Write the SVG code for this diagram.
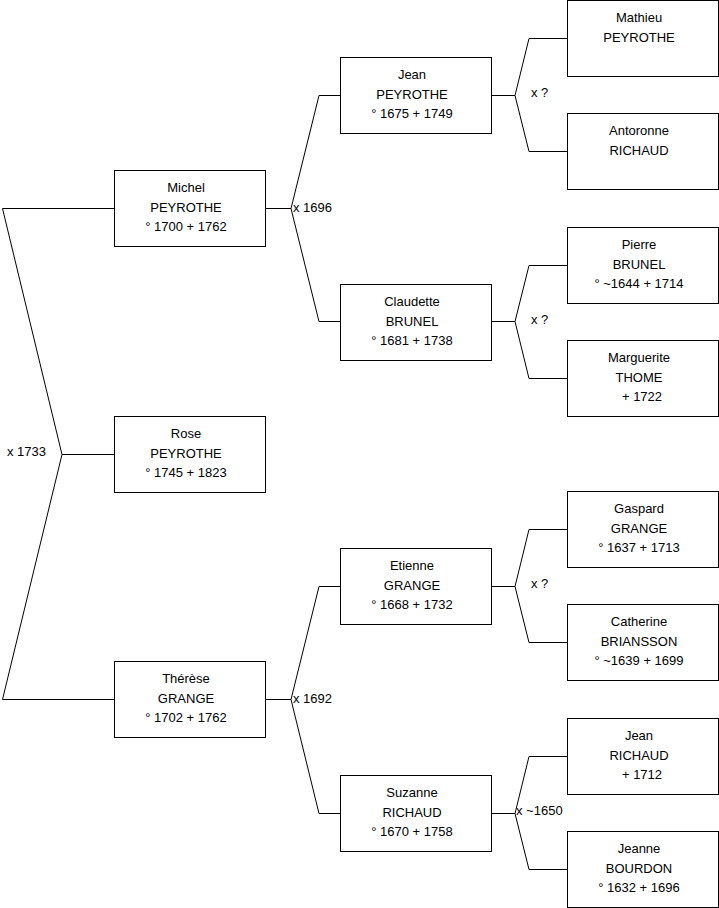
<svg xmlns="http://www.w3.org/2000/svg" width="719" height="908" viewBox="0 0 719 908">
<style>
.b{fill:#fff;stroke:#000;stroke-width:1}
.t{font-family:"Liberation Sans",Arial,sans-serif;font-size:13px;fill:#000;text-anchor:middle}
.l{font-family:"Liberation Sans",Arial,sans-serif;font-size:13px;fill:#000}
.c{fill:none;stroke:#000;stroke-width:1}
</style>
<rect width="719" height="908" fill="#fff"/>
<g id="connectors">
<path class="c" d="M114,208.5 H2.5 L62,454.5 L2.5,699.5 H114 M62,454.5 H114"/>
<path class="c" d="M265,208.5 H291 L319,95.5 H340 M291,208.5 L319,321.5 H340"/>
<path class="c" d="M265,699.5 H291 L319,586.5 H340 M291,699.5 L319,813.5 H340"/>
<path class="c" d="M491,95.5 H515 L529,38.5 H567 M515,95.5 L529,151.5 H567"/>
<path class="c" d="M491,321.5 H515 L529,265.5 H567 M515,321.5 L529,378.5 H567"/>
<path class="c" d="M491,586.5 H515 L529,529.5 H567 M515,586.5 L529,642.5 H567"/>
<path class="c" d="M491,813.5 H515 L529,756.5 H567 M515,813.5 L529,869.5 H567"/>
<text class="l" x="7" y="456">x 1733</text>
<text class="l" x="293" y="212">x 1696</text>
<text class="l" x="293" y="703">x 1692</text>
<text class="l" x="531" y="97">x ?</text>
<text class="l" x="531" y="324">x ?</text>
<text class="l" x="531" y="588">x ?</text>
<text class="l" x="516" y="815">x ~1650</text>
</g>
<g id="michel"><rect class="b" x="114.5" y="170.5" width="151" height="76"/><text class="t" x="186" y="192">Michel</text><text class="t" x="186" y="212">PEYROTHE</text><text class="t" x="186" y="231">° 1700 + 1762</text></g>
<g id="rose"><rect class="b" x="114.5" y="416.5" width="151" height="76"/><text class="t" x="186" y="438">Rose</text><text class="t" x="186" y="458">PEYROTHE</text><text class="t" x="186" y="477">° 1745 + 1823</text></g>
<g id="therese"><rect class="b" x="114.5" y="661.5" width="151" height="76"/><text class="t" x="186" y="683">Thérèse</text><text class="t" x="186" y="703">GRANGE</text><text class="t" x="186" y="722">° 1702 + 1762</text></g>
<g id="jean1"><rect class="b" x="340.5" y="57.5" width="151" height="76"/><text class="t" x="412" y="79">Jean</text><text class="t" x="412" y="99">PEYROTHE</text><text class="t" x="412" y="118">° 1675 + 1749</text></g>
<g id="claudette"><rect class="b" x="340.5" y="284.5" width="151" height="76"/><text class="t" x="412" y="306">Claudette</text><text class="t" x="412" y="326">BRUNEL</text><text class="t" x="412" y="345">° 1681 + 1738</text></g>
<g id="etienne"><rect class="b" x="340.5" y="548.5" width="151" height="76"/><text class="t" x="412" y="570">Etienne</text><text class="t" x="412" y="590">GRANGE</text><text class="t" x="412" y="609">° 1668 + 1732</text></g>
<g id="suzanne"><rect class="b" x="340.5" y="775.5" width="151" height="76"/><text class="t" x="412" y="797">Suzanne</text><text class="t" x="412" y="817">RICHAUD</text><text class="t" x="412" y="836">° 1670 + 1758</text></g>
<g id="mathieu"><rect class="b" x="567.5" y="0.5" width="151" height="76"/><text class="t" x="639" y="22">Mathieu</text><text class="t" x="639" y="42">PEYROTHE</text></g>
<g id="antoronne"><rect class="b" x="567.5" y="113.5" width="151" height="76"/><text class="t" x="639" y="135">Antoronne</text><text class="t" x="639" y="155">RICHAUD</text></g>
<g id="pierre"><rect class="b" x="567.5" y="227.5" width="151" height="76"/><text class="t" x="639" y="249">Pierre</text><text class="t" x="639" y="269">BRUNEL</text><text class="t" x="639" y="288">° ~1644 + 1714</text></g>
<g id="marguerite"><rect class="b" x="567.5" y="340.5" width="151" height="76"/><text class="t" x="639" y="362">Marguerite</text><text class="t" x="639" y="382">THOME</text><text class="t" x="642" y="401">+ 1722</text></g>
<g id="gaspard"><rect class="b" x="567.5" y="491.5" width="151" height="76"/><text class="t" x="639" y="513">Gaspard</text><text class="t" x="639" y="533">GRANGE</text><text class="t" x="639" y="552">° 1637 + 1713</text></g>
<g id="catherine"><rect class="b" x="567.5" y="604.5" width="151" height="76"/><text class="t" x="639" y="626">Catherine</text><text class="t" x="639" y="646">BRIANSSON</text><text class="t" x="639" y="665">° ~1639 + 1699</text></g>
<g id="jean2"><rect class="b" x="567.5" y="718.5" width="151" height="76"/><text class="t" x="639" y="740">Jean</text><text class="t" x="639" y="760">RICHAUD</text><text class="t" x="642" y="779">+ 1712</text></g>
<g id="jeanne"><rect class="b" x="567.5" y="831.5" width="151" height="76"/><text class="t" x="639" y="853">Jeanne</text><text class="t" x="639" y="873">BOURDON</text><text class="t" x="639" y="892">° 1632 + 1696</text></g>
</svg>
